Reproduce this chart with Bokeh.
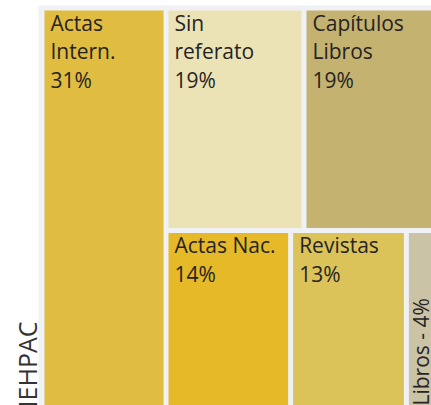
import math
from bokeh.plotting import figure
from bokeh.models import Range1d, ColumnDataSource, Label
from bokeh.core.properties import value
from bokeh.embed import file_html
from bokeh.resources import INLINE

# ---- data ----
names = ["Actas\nIntern.", "Sin\nreferato", "Capítulos\nLibros", "Actas Nac.", "Revistas", "Libros"]
shares = [31, 19, 19, 14, 13, 4]          # percent
colors = ["#e0bd40", "#ebe3b5", "#c4b270", "#e5b928", "#dbc35a", "#cac3a5"]
group_title = "IEHPAC"

# ---- layout constants ----
W, H = 431, 405
BOX_X, BOX_Y, BOX_W, BOX_H = 41.5, 7.5, 400.0, 404.0
GAP = 2.5
PANEL = "#f0f1f4"
TXT = "#262324"
FONT = "Open Sans"
FS_PX = 21
FS = f"{FS_PX}px"
TITLE_PX = 25
BASE_FIX = 0.46   # renderer's baseline shift, in em

# slice layout: first item is a full-height column, the rest in two rows
rows = [[1, 2], [3, 4, 5]]
total = sum(shares)
cells = [None] * len(shares)
col_w = BOX_W * shares[0] / total
cells[0] = (BOX_X, BOX_Y, BOX_X + col_w, BOX_Y + BOX_H)
rest_x0 = BOX_X + col_w
rest_w = BOX_W - col_w
rest_total = sum(shares[1:])
y0 = BOX_Y
for row in rows:
    row_total = sum(shares[i] for i in row)
    row_h = BOX_H * row_total / rest_total
    x0 = rest_x0
    for i in row:
        w = rest_w * shares[i] / row_total
        cells[i] = (x0, y0, x0 + w, y0 + row_h)
        x0 += w
    y0 += row_h

rect = dict(left=[], right=[], top=[], bottom=[], color=[])
for c, col in zip(cells, colors):
    rect["left"].append(c[0] + GAP)
    rect["right"].append(c[2] - GAP)
    rect["top"].append(c[1] + GAP)
    rect["bottom"].append(c[3] - GAP)
    rect["color"].append(col)

fix = BASE_FIX * FS_PX
txt = dict(x=[], y=[], text=[])
rtxt = dict(x=[], y=[], text=[])
for i, (name, s) in enumerate(zip(names, shares)):
    l, t, r, b = rect["left"][i], rect["top"][i], rect["right"][i], rect["bottom"][i]
    if r - l < 60:
        rtxt["x"].append(l + 6 + 16 - fix)
        rtxt["y"].append(b - 4)
        rtxt["text"].append(f"{name} - {s}%")
    else:
        lines = name.split("\n") + [f"{s}%"]
        for k, ln in enumerate(lines):
            txt["x"].append(l + 6)
            txt["y"].append(t + 22 + k * 28.5 - fix)
            txt["text"].append(ln)

p = figure(width=W, height=H, output_backend="svg", toolbar_location=None,
           x_range=Range1d(0, W), y_range=Range1d(H, 0), min_border=0)
p.xaxis.visible = False
p.yaxis.visible = False
p.grid.visible = False
p.outline_line_color = None
p.background_fill_color = "white"
p.border_fill_color = "white"

# panel
p.quad(left=[BOX_X - 3.5], right=[BOX_X + BOX_W + 20], top=[BOX_Y - 2.5],
       bottom=[BOX_Y + BOX_H + 20], color=PANEL, line_color=None)

p.quad(left="left", right="right", top="top", bottom="bottom", fill_color="color",
       line_color=None, source=ColumnDataSource(rect))

p.text(x="x", y="y", text="text", source=ColumnDataSource(txt),
       text_font=value(FONT), text_font_size=value(FS), text_color=TXT,
       text_align="left", text_baseline="alphabetic")
p.text(x="x", y="y", text="text", source=ColumnDataSource(rtxt), angle=math.pi / 2,
       text_font=value(FONT), text_font_size=value(FS), text_color=TXT,
       text_align="left", text_baseline="alphabetic")

p.add_layout(Label(x=BOX_X - 3.5 - BASE_FIX * TITLE_PX, y=321, text=group_title,
                   angle=90, angle_units="deg",
                   text_align="right", text_baseline="alphabetic", text_font=FONT,
                   text_font_size=f"{TITLE_PX}px", text_color="#333333"))

open("out.html", "w").write(file_html(p, INLINE))
